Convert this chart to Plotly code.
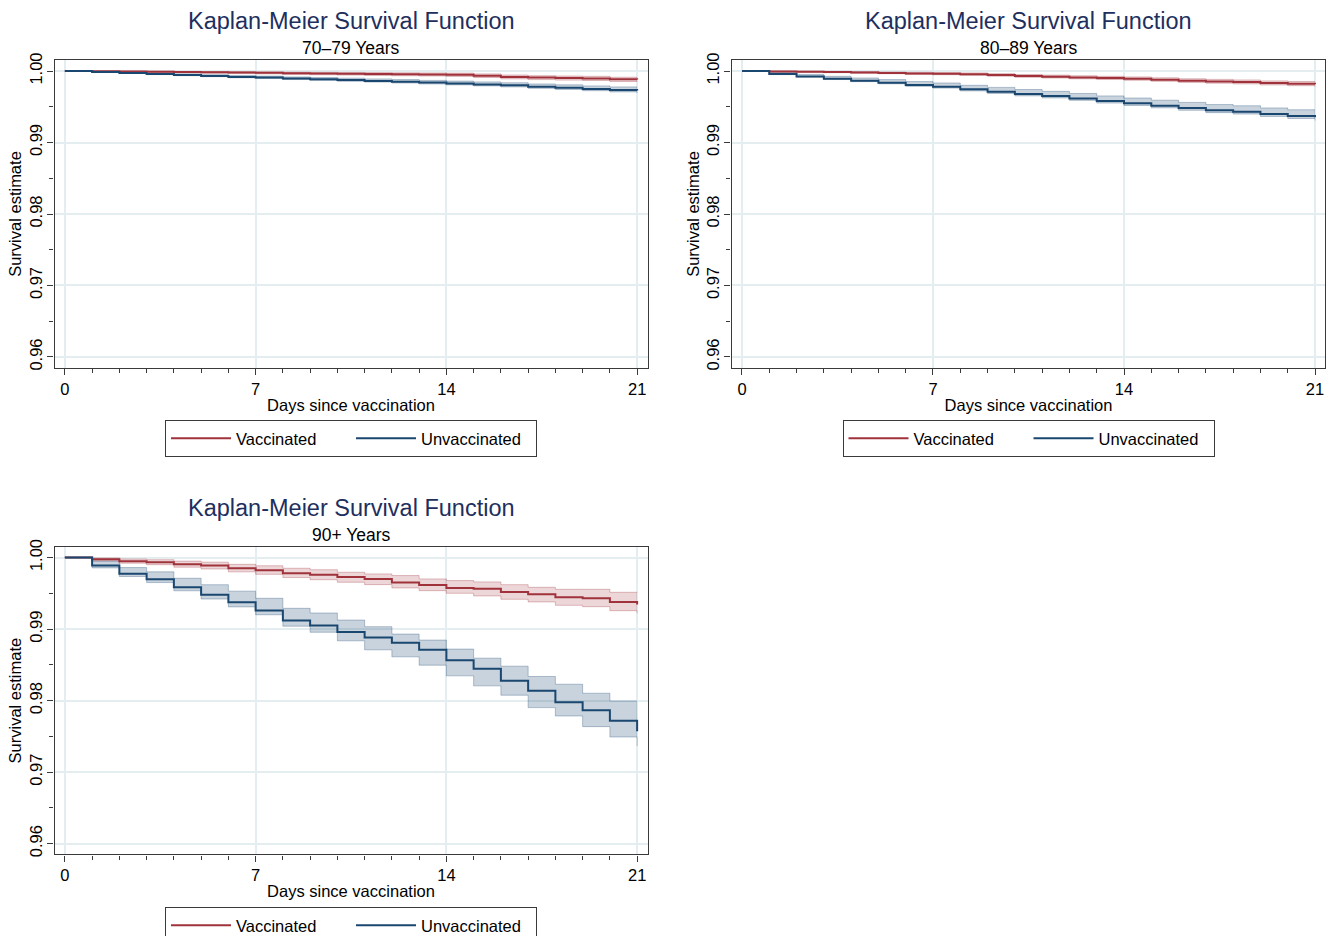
import plotly.graph_objects as go

# ---------------- data ----------------
days = list(range(22))
x_ticks = [0, 7, 14, 21]
y_ticks = [0.96, 0.97, 0.98, 0.99, 1.00]
panel_titles = ["70\u201379 Years", "80\u201389 Years", "90+ Years"]
main_title = "Kaplan-Meier Survival Function"
series_names = ["Vaccinated", "Unvaccinated"]

# 70-79 years
vac_70 = [1.0, 0.99998, 0.99995, 0.99990, 0.99985, 0.99982, 0.99978, 0.99975, 0.99970, 0.99966, 0.99962,
          0.99959, 0.99956, 0.99953, 0.99949, 0.99935, 0.99918, 0.99908, 0.99902, 0.99897, 0.99884, 0.99880]
vac_70_hi = [1.0, 1.0, 0.99999, 0.99997, 0.99994, 0.99992, 0.99990, 0.99988, 0.99985, 0.99982, 0.99980,
             0.99978, 0.99976, 0.99974, 0.99971, 0.99960, 0.99944, 0.99935, 0.99930, 0.99926, 0.99913, 0.99913]
vac_70_lo = [1.0, 0.99994, 0.99989, 0.99982, 0.99975, 0.99970, 0.99964, 0.99960, 0.99953, 0.99948, 0.99943,
             0.99938, 0.99934, 0.99930, 0.99925, 0.99909, 0.99891, 0.99880, 0.99873, 0.99867, 0.99853, 0.99848]
unv_70 = [1.0, 0.99986, 0.99972, 0.99958, 0.99945, 0.99932, 0.99918, 0.99908, 0.99895, 0.99884, 0.99873,
          0.99862, 0.99850, 0.99838, 0.99826, 0.99813, 0.99800, 0.99781, 0.99767, 0.99750, 0.99734, 0.99726]
unv_70_hi = [1.0, 0.99992, 0.99982, 0.99971, 0.99960, 0.99949, 0.99938, 0.99929, 0.99918, 0.99909, 0.99900,
             0.99890, 0.99880, 0.99869, 0.99859, 0.99848, 0.99836, 0.99819, 0.99807, 0.99792, 0.99778, 0.99778]
unv_70_lo = [1.0, 0.99982, 0.99966, 0.99950, 0.99935, 0.99921, 0.99906, 0.99895, 0.99881, 0.99869, 0.99857,
             0.99845, 0.99832, 0.99819, 0.99806, 0.99792, 0.99778, 0.99758, 0.99743, 0.99725, 0.99708, 0.99694]

# 80-89 years
vac_80 = [1.0, 0.99995, 0.99991, 0.99986, 0.99981, 0.99974, 0.99967, 0.99963, 0.99956, 0.99944, 0.99930,
          0.99921, 0.99911, 0.99902, 0.99893, 0.99879, 0.99865, 0.99855, 0.99846, 0.99832, 0.99823, 0.99814]
vac_80_hi = [1.0, 0.99999, 0.99998, 0.99995, 0.99992, 0.99987, 0.99982, 0.99979, 0.99974, 0.99963, 0.99951,
             0.99943, 0.99934, 0.99926, 0.99918, 0.99905, 0.99892, 0.99883, 0.99875, 0.99862, 0.99854, 0.99854]
vac_80_lo = [1.0, 0.99990, 0.99984, 0.99977, 0.99970, 0.99962, 0.99953, 0.99948, 0.99940, 0.99927, 0.99912,
             0.99902, 0.99891, 0.99881, 0.99871, 0.99856, 0.99841, 0.99830, 0.99820, 0.99805, 0.99795, 0.99785]
unv_80 = [1.0, 0.99958, 0.99925, 0.99893, 0.99865, 0.99837, 0.99804, 0.99781, 0.99744, 0.99711, 0.99678,
          0.99650, 0.99617, 0.99580, 0.99548, 0.99515, 0.99482, 0.99450, 0.99431, 0.99399, 0.99371, 0.99352]
unv_80_hi = [1.0, 0.99978, 0.99953, 0.99926, 0.99903, 0.99880, 0.99852, 0.99833, 0.99800, 0.99771, 0.99741,
             0.99716, 0.99686, 0.99652, 0.99623, 0.99592, 0.99561, 0.99531, 0.99514, 0.99484, 0.99458, 0.99458]
unv_80_lo = [1.0, 0.99950, 0.99915, 0.99881, 0.99851, 0.99821, 0.99786, 0.99761, 0.99722, 0.99687, 0.99653,
             0.99624, 0.99590, 0.99552, 0.99519, 0.99485, 0.99451, 0.99418, 0.99398, 0.99365, 0.99336, 0.99307]

# 90+ years
vac_90 = [1.0, 0.99977, 0.99949, 0.99935, 0.99907, 0.99888, 0.99851, 0.99823, 0.99781, 0.99758, 0.99727,
          0.99701, 0.99650, 0.99617, 0.99575, 0.99565, 0.99519, 0.99486, 0.99444, 0.99430, 0.99379, 0.99343]
vac_90_hi = [1.0, 0.99995, 0.99980, 0.99970, 0.99950, 0.99935, 0.99905, 0.99885, 0.99850, 0.99830, 0.99794,
             0.99771, 0.99748, 0.99701, 0.99678, 0.99659, 0.99621, 0.99584, 0.99556, 0.99556, 0.99514, 0.99514]
vac_90_lo = [1.0, 0.99955, 0.99920, 0.99900, 0.99865, 0.99840, 0.99800, 0.99765, 0.99720, 0.99690, 0.99654,
             0.99621, 0.99575, 0.99537, 0.99500, 0.99463, 0.99416, 0.99379, 0.99332, 0.99313, 0.99257, 0.99220]
unv_90 = [1.0, 0.99888, 0.99772, 0.99697, 0.99585, 0.99478, 0.99375, 0.99259, 0.99119, 0.99049, 0.98960,
          0.98883, 0.98808, 0.98710, 0.98565, 0.98444, 0.98276, 0.98136, 0.97977, 0.97864, 0.97720, 0.97570]
unv_90_hi = [1.0, 0.99950, 0.99860, 0.99800, 0.99710, 0.99620, 0.99530, 0.99430, 0.99290, 0.99225, 0.99126,
             0.99033, 0.98930, 0.98846, 0.98720, 0.98593, 0.98481, 0.98337, 0.98229, 0.98103, 0.97995, 0.97995]
unv_90_lo = [1.0, 0.99855, 0.99735, 0.99650, 0.99535, 0.99420, 0.99310, 0.99200, 0.99040, 0.98955, 0.98836,
             0.98710, 0.98612, 0.98495, 0.98346, 0.98206, 0.98075, 0.97902, 0.97785, 0.97636, 0.97491, 0.97364]

panels = [
    (vac_70, vac_70_lo, vac_70_hi, unv_70, unv_70_lo, unv_70_hi),
    (vac_80, vac_80_lo, vac_80_hi, unv_80, unv_80_lo, unv_80_hi),
    (vac_90, vac_90_lo, vac_90_hi, unv_90, unv_90_lo, unv_90_hi),
]

# ---------------- style ----------------
W, H = 1330, 936
FONT = "Liberation Sans, Arial, sans-serif"
RED = "#a0323b"
BLUE = "#1a476f"
RED_FILL = "rgba(160,50,59,0.20)"
BLUE_FILL = "rgba(26,71,111,0.24)"
RED_EDGE = "rgba(160,50,59,0.30)"
BLUE_EDGE = "rgba(26,71,111,0.30)"
FRAME = "#3a3a3a"
GRID = "#e4edf0"
TITLE_COLOR = "#1e2f5e"

# plot-region boxes in screen pixels: (left, right, top, bottom)
boxes = [(54.5, 647.5, 60.3, 367.7), (731.6, 1325.4, 60.3, 367.7), (54.5, 647.5, 546.8, 854.4)]
# top edge of each legend box in screen pixels (the last one runs off the bottom, as in the original)
legend_tops = [420, 420, 907]

fig = go.Figure()

for i, (vac, vlo, vhi, unv, ulo, uhi) in enumerate(panels):
    sfx = "" if i == 0 else str(i + 1)
    xa, ya = "x" + sfx, "y" + sfx
    leg = "legend" + sfx
    for lo, hi, fillc, edge in [(vlo, vhi, RED_FILL, RED_EDGE), (ulo, uhi, BLUE_FILL, BLUE_EDGE)]:
        fig.add_trace(go.Scatter(x=days, y=lo, mode="lines", line=dict(color=edge, width=1, shape="hv"),
                                 xaxis=xa, yaxis=ya, showlegend=False, hoverinfo="skip"))
        fig.add_trace(go.Scatter(x=days, y=hi, mode="lines", line=dict(color=edge, width=1, shape="hv"),
                                 fill="tonexty", fillcolor=fillc,
                                 xaxis=xa, yaxis=ya, showlegend=False, hoverinfo="skip"))
    for vals, name, col in [(vac, series_names[0], RED), (unv, series_names[1], BLUE)]:
        fig.add_trace(go.Scatter(x=days, y=vals, mode="lines", name=name,
                                 line=dict(color=col, width=2, shape="hv"),
                                 xaxis=xa, yaxis=ya, legend=leg))


def px(xs):
    return xs / W


def py(ys):
    return 1 - ys / H


layout = dict(
    template="none",
    width=W, height=H, autosize=False,
    margin=dict(l=0, r=0, t=0, b=0, pad=0, autoexpand=False),
    paper_bgcolor="white", plot_bgcolor="white",
    font=dict(family=FONT, size=16.5, color="black"),
    annotations=[],
)

for i, (l, r, t, b) in enumerate(boxes):
    sfx = "" if i == 0 else str(i + 1)
    xdom = [px(l), min(px(r), 1.0)]
    ydom = [py(b), py(t)]
    axis_common = dict(showline=True, mirror=True, linecolor=FRAME, linewidth=1.3,
                       ticks="outside", ticklen=6, tickcolor=FRAME, tickwidth=1.2,
                       showgrid=True, gridcolor=GRID, gridwidth=1.5, zeroline=False,
                       automargin=False,
                       tickfont=dict(size=16.5, family=FONT, color="black"))
    layout["xaxis" + sfx] = dict(axis_common, domain=xdom, range=[-0.38, 21.38],
                                 anchor="y" + sfx, tickvals=x_ticks,
                                 minor=dict(dtick=1, tick0=0, ticks="outside", ticklen=4,
                                            tickcolor=FRAME, showgrid=False),
                                 title=dict(text="Days since vaccination", standoff=2,
                                            font=dict(size=16.5, family=FONT, color="black")))
    layout["yaxis" + sfx] = dict(axis_common, domain=ydom, range=[0.9585, 1.0015],
                                 anchor="x" + sfx, tickvals=y_ticks, tickformat=".2f",
                                 tickangle=-90, ticklabelstandoff=-1,
                                 minor=dict(dtick=0.005, tick0=0.96, ticks="outside", ticklen=4,
                                            tickcolor=FRAME, showgrid=False),
                                 title=dict(text="Survival estimate", standoff=0,
                                            font=dict(size=16.5, family=FONT, color="black")))
    cx = px((l + r) / 2)
    layout["annotations"].append(dict(text=main_title, xref="paper", yref="paper", x=cx,
                                      y=py(t - 39), xanchor="center", yanchor="middle",
                                      showarrow=False, font=dict(size=23.5, family=FONT, color=TITLE_COLOR)))
    layout["annotations"].append(dict(text=panel_titles[i], xref="paper", yref="paper", x=cx,
                                      y=py(t - 12), xanchor="center", yanchor="middle",
                                      showarrow=False, font=dict(size=17.5, family=FONT, color="black")))
    layout["legend" + sfx] = dict(orientation="h", x=cx, xanchor="center", y=py(legend_tops[i]),
                                  yanchor="top", bordercolor=FRAME, borderwidth=1, bgcolor="white",
                                  font=dict(size=16.5, family=FONT, color="black"),
                                  itemwidth=60, entrywidth=110, traceorder="normal")

fig.update_layout(**layout)

# the page itself should add no margin round the figure, and nothing may spill past it
page_css = ("document.body.style.margin='0';document.body.style.padding='0';"
            "document.body.style.overflow='hidden';document.documentElement.style.overflow='hidden';"
            "document.getElementById('{plot_id}').style.overflow='hidden';")
fig.write_html("out.html", post_script=page_css, config={"displayModeBar": False})
